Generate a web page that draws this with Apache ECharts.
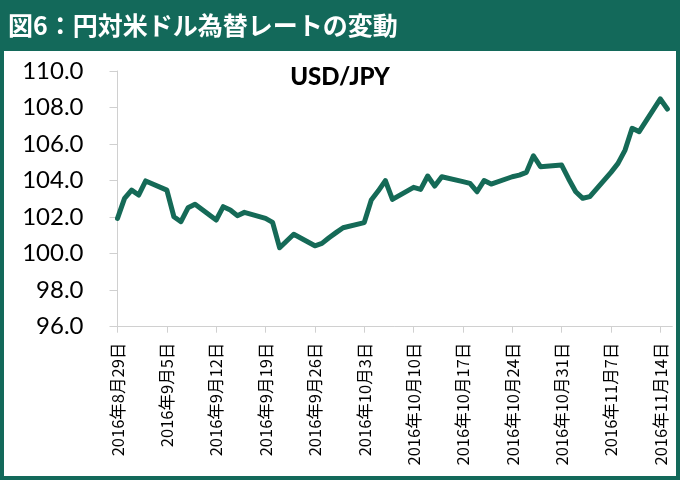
<!DOCTYPE html>
<html>
<head>
<meta charset="utf-8">
<script src="https://cdn.jsdelivr.net/npm/echarts@6/dist/echarts.min.js"></script>
<style>html,body{margin:0;padding:0;background:#13695a;}#c{width:680px;height:480px;}</style>
</head>
<body>
<div id="c"></div>
<script>
// ---- data ----
const startDate = '2016-08-29';
const dates = [
 '2016-08-29','2016-08-30','2016-08-31','2016-09-01','2016-09-02',
 '2016-09-05','2016-09-06','2016-09-07','2016-09-08','2016-09-09',
 '2016-09-12','2016-09-13','2016-09-14','2016-09-15','2016-09-16',
 '2016-09-19','2016-09-20','2016-09-21','2016-09-22','2016-09-23',
 '2016-09-26','2016-09-27','2016-09-28','2016-09-29','2016-09-30',
 '2016-10-03','2016-10-04','2016-10-05','2016-10-06','2016-10-07',
 '2016-10-10','2016-10-11','2016-10-12','2016-10-13','2016-10-14',
 '2016-10-17','2016-10-18','2016-10-19','2016-10-20','2016-10-21',
 '2016-10-24','2016-10-25','2016-10-26','2016-10-27','2016-10-28',
 '2016-10-31','2016-11-01','2016-11-02','2016-11-03','2016-11-04',
 '2016-11-07','2016-11-08','2016-11-09','2016-11-10','2016-11-11',
 '2016-11-14','2016-11-15'
];
const usdjpy = [
 101.93,103.03,103.48,103.21,103.98,
 103.48,102.02,101.75,102.51,102.70,
 101.84,102.57,102.39,102.08,102.26,
 101.93,101.71,100.32,100.69,101.06,
 100.43,100.56,100.87,101.15,101.42,
 101.70,102.94,103.44,104.00,102.97,
 103.63,103.52,104.25,103.70,104.21,
 103.94,103.85,103.39,104.00,103.81,
 104.21,104.30,104.45,105.36,104.76,
 104.85,104.09,103.39,103.03,103.12,
 104.45,104.94,105.67,106.86,106.68,
 108.47,107.92
];
const tickLabels = [
 '2016年8月29日','2016年9月5日','2016年9月12日','2016年9月19日',
 '2016年9月26日','2016年10月3日','2016年10月10日','2016年10月17日',
 '2016年10月24日','2016年10月31日','2016年11月7日','2016年11月14日'
];
const yTicks = [96, 98, 100, 102, 104, 106, 108, 110];
const titleText = '図6：円対米ドル為替レートの変動';
const seriesName = 'USD/JPY';

// ---- build ----
const DAY = 86400000;
const t0 = Date.parse(startDate);
const points = dates.map((d, i) => [(Date.parse(d) - t0) / DAY, usdjpy[i]]);
const tickDays = tickLabels.map((_, i) => i * 7);

const chart = echarts.init(document.getElementById('c'), null, {renderer: 'canvas'});
chart.setOption({
  backgroundColor: '#13695a',
  animation: false,
  graphic: [
    {type: 'rect', shape: {x: 4, y: 51, width: 672, height: 425}, style: {fill: '#ffffff'}, z: -10, silent: true},
    {type: 'text', left: 8, top: 13, style: {text: titleText, fill: '#ffffff', font: 'bold 25px "Noto Sans CJK JP"'}, z: 10}
  ],
  title: {
    text: seriesName, left: 'center', top: 60,
    textStyle: {fontFamily: 'Lato', fontWeight: 900, fontSize: 24, color: '#000000'}
  },
  grid: {left: 117.5, top: 71, right: 7.7, bottom: 153.3, containLabel: false},
  xAxis: {
    type: 'value', min: 0, max: 78.7,
    axisLine: {show: true, onZero: false, lineStyle: {color: '#d0d0d0', width: 1}},
    axisTick: {show: true, length: 6, customValues: tickDays, lineStyle: {color: '#d0d0d0'}},
    axisLabel: {
      customValues: tickDays, rotate: 90, margin: 16,
      fontFamily: '"Noto Sans CJK JP"', fontSize: 16.5, color: '#000000',
      formatter: v => tickLabels[Math.round(v / 7)] || ''
    },
    splitLine: {show: false}
  },
  yAxis: {
    type: 'value', min: yTicks[0], max: yTicks[yTicks.length - 1], interval: 2,
    axisLine: {show: true, lineStyle: {color: '#d0d0d0'}},
    axisTick: {show: true, length: 8, lineStyle: {color: '#d0d0d0'}},
    axisLabel: {margin: 34, fontFamily: 'Lato', fontSize: 24, color: '#000000', formatter: v => v.toFixed(1)},
    splitLine: {show: false}
  },
  series: [{
    name: seriesName, type: 'line', data: points, showSymbol: false,
    lineStyle: {color: '#156a57', width: 5, join: 'round', cap: 'round'},
    clip: false
  }]
});
</script>
</body>
</html>
